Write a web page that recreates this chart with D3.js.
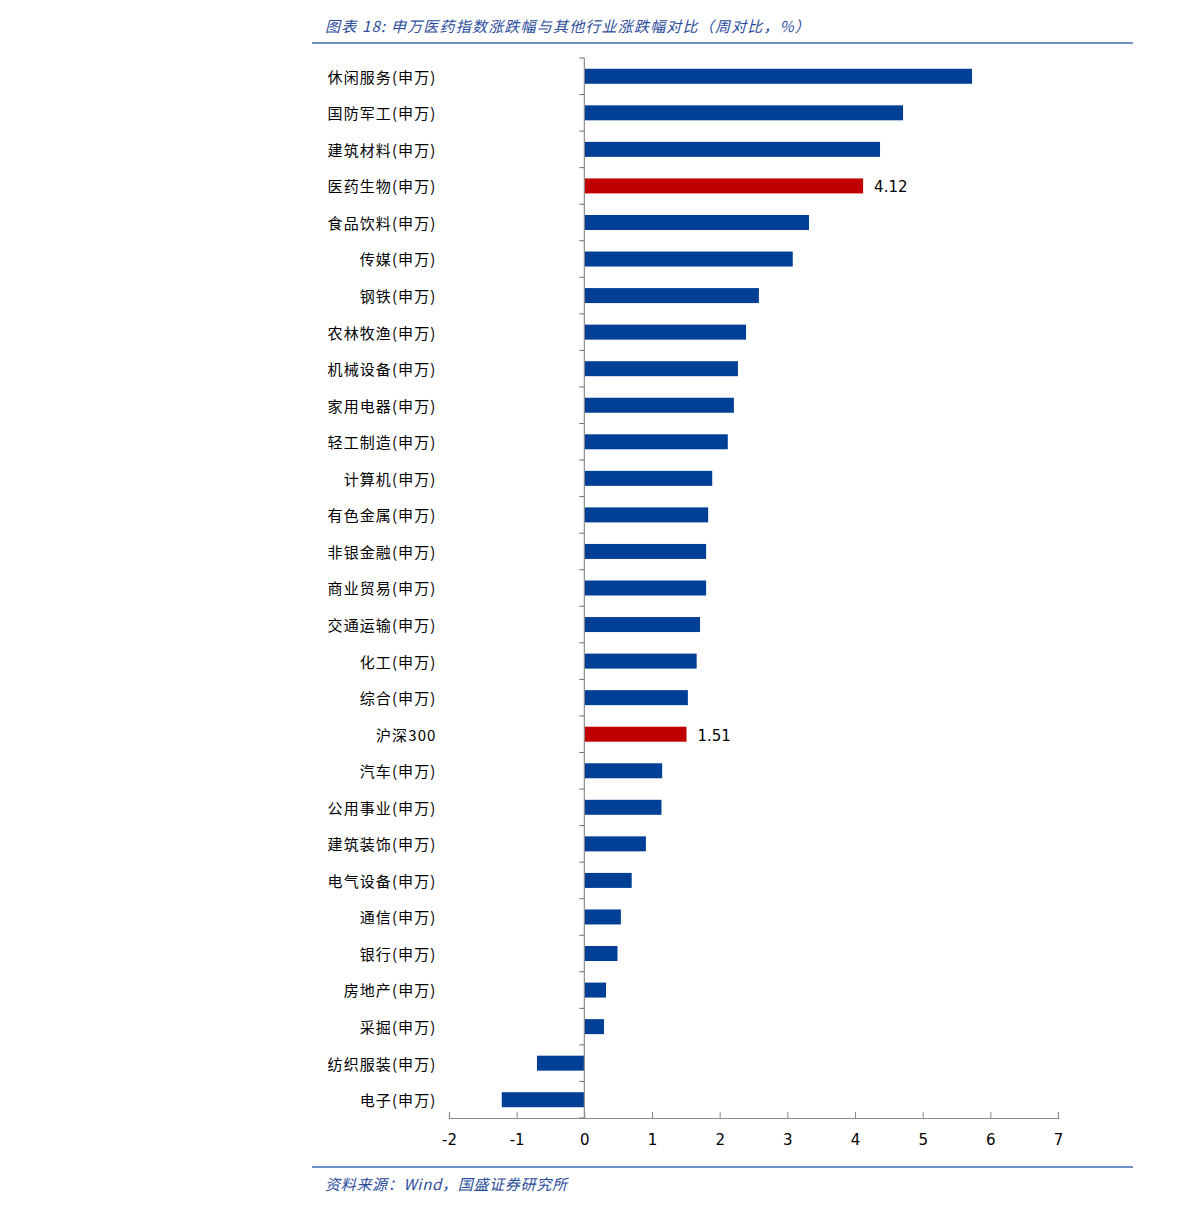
<!DOCTYPE html>
<html><head><meta charset="utf-8">
<script src="https://cdn.jsdelivr.net/npm/d3@7/dist/d3.min.js"></script>
<style>body{margin:0;background:#fff}</style>
</head><body>
<script>
const categories = ["休闲服务(申万)","国防军工(申万)","建筑材料(申万)","医药生物(申万)","食品饮料(申万)","传媒(申万)","钢铁(申万)","农林牧渔(申万)","机械设备(申万)","家用电器(申万)","轻工制造(申万)","计算机(申万)","有色金属(申万)","非银金融(申万)","商业贸易(申万)","交通运输(申万)","化工(申万)","综合(申万)","沪深300","汽车(申万)","公用事业(申万)","建筑装饰(申万)","电气设备(申万)","通信(申万)","银行(申万)","房地产(申万)","采掘(申万)","纺织服装(申万)","电子(申万)"];
const values = [5.73,4.71,4.37,4.12,3.32,3.08,2.58,2.39,2.27,2.21,2.12,1.89,1.83,1.80,1.80,1.71,1.66,1.53,1.51,1.15,1.14,0.91,0.70,0.54,0.49,0.32,0.29,-0.70,-1.22];
const highlighted = ["医药生物(申万)","沪深300"];
const xTicks = [-2,-1,0,1,2,3,4,5,6,7];
const title = "图表 18:  申万医药指数涨跌幅与其他行业涨跌幅对比（周对比，%）";
const source = "资料来源：Wind，国盛证券研究所";

const W = 1191, H = 1213;
const svg = d3.select("body").append("svg").attr("width", W).attr("height", H);

const x = d3.scaleLinear().domain([-2, 7]).range([449, 1058]);
const y = d3.scaleBand().domain(categories).range([58, 1118]).paddingInner(0.59).paddingOuter(0.295);
const step = y.step();

// header / footer
svg.append("text").attr("x", 325).attr("y", 32).attr("font-family", "'Noto Sans CJK SC', sans-serif")
  .attr("font-size", 15).attr("font-style", "italic").attr("letter-spacing", 1.2).attr("fill", "#2B4C9B").text(title);
svg.append("line").attr("x1", 312).attr("x2", 1133).attr("y1", 43).attr("y2", 43).attr("stroke", "#3F6AB5").attr("stroke-width", 1.5);
svg.append("line").attr("x1", 312).attr("x2", 1133).attr("y1", 1167).attr("y2", 1167).attr("stroke", "#3F6AB5").attr("stroke-width", 1.5);
svg.append("text").attr("x", 325).attr("y", 1190).attr("font-family", "'Noto Sans CJK SC', sans-serif")
  .attr("font-size", 15).attr("font-style", "italic").attr("letter-spacing", 0.7).attr("fill", "#2B4C9B").text(source);

// bars
const x0 = x(0);
svg.selectAll("rect.bar").data(categories).enter().append("rect")
  .attr("x", (d, i) => Math.min(x(values[i]), x0))
  .attr("y", d => y(d))
  .attr("width", (d, i) => Math.abs(x(values[i]) - x0))
  .attr("height", y.bandwidth())
  .attr("fill", d => highlighted.includes(d) ? "#C00000" : "#003F96");

// data labels for highlighted
svg.selectAll("text.val").data(categories.filter(c => highlighted.includes(c))).enter().append("text")
  .attr("x", d => x(values[categories.indexOf(d)]) + 11)
  .attr("y", d => y(d) + y.bandwidth() / 2 + 1)
  .attr("dy", "0.36em").attr("font-family", "'DejaVu Sans', sans-serif").attr("font-size", 15).attr("fill", "#000")
  .text(d => values[categories.indexOf(d)].toFixed(2));

// x axis
const xa = svg.append("g").attr("transform", "translate(0,1118)")
  .call(d3.axisBottom(x).tickValues(xTicks).tickSize(-6).tickPadding(16).tickFormat(d3.format("d")));
xa.select(".domain").attr("stroke", "#8C8C8C").attr("stroke-width", 1.2);
xa.selectAll(".tick line").attr("stroke", "#8C8C8C");
xa.selectAll(".tick text").attr("font-family", "'DejaVu Sans', sans-serif").attr("font-size", 15).attr("fill", "#000")
  .text(d => d < 0 ? "-" + Math.abs(d) : d);

// y axis at zero
const ya = svg.append("g");
ya.append("line").attr("x1", x0).attr("x2", x0).attr("y1", 58).attr("y2", 1118).attr("stroke", "#8C8C8C").attr("stroke-width", 1.2);
const bounds = d3.range(categories.length + 1).map(i => 58 + i * step);
ya.selectAll("line.t").data(bounds).enter().append("line")
  .attr("x1", x0 - 5).attr("x2", x0).attr("y1", d => d).attr("y2", d => d).attr("stroke", "#6E6E6E");
ya.selectAll("text.cat").data(categories).enter().append("text")
  .attr("x", 436.5).attr("y", d => y(d) + y.bandwidth() / 2 + 1).attr("dy", "0.36em")
  .attr("text-anchor", "end").attr("font-family", "'Noto Sans CJK SC', sans-serif").attr("font-size", 15)
  .attr("letter-spacing", 1.1).attr("fill", "#000")
  .text(d => d);
</script>
</body></html>
